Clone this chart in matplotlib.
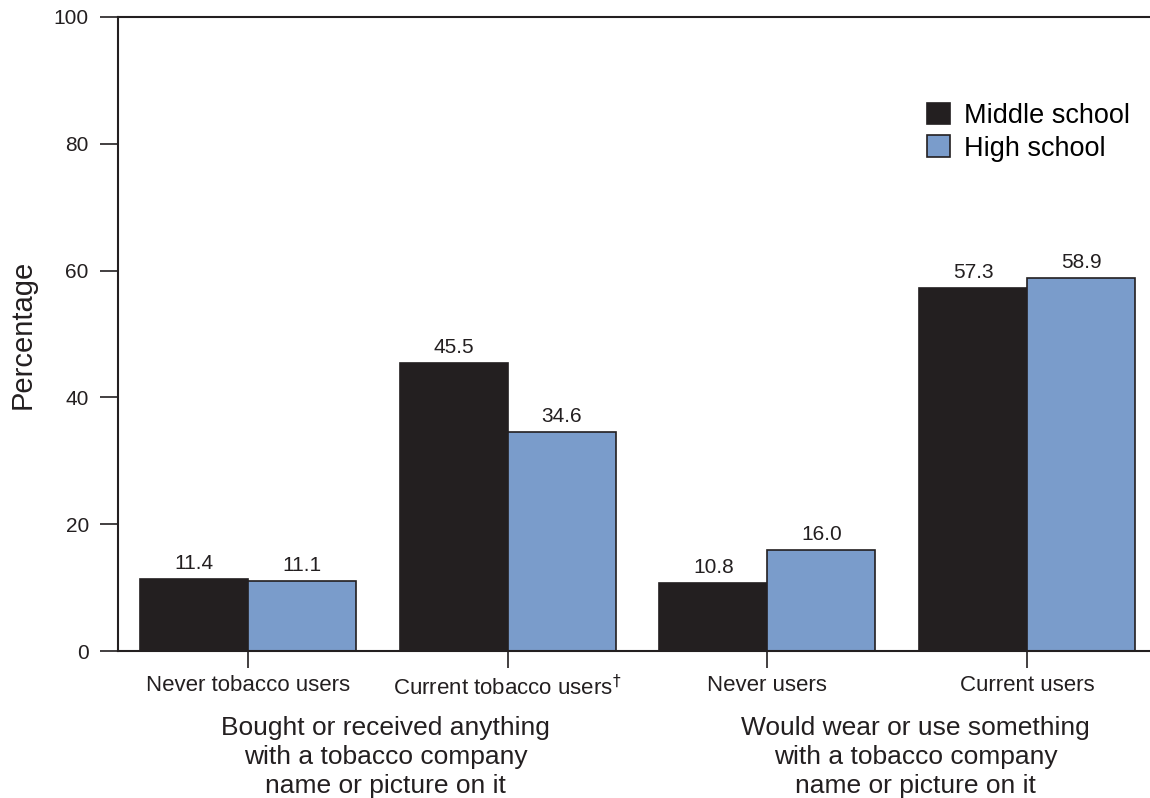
import numpy as np
import matplotlib.pyplot as plt

plt.rcParams['font.family'] = ['Liberation Sans', 'DejaVu Sans']

categories = ['Never tobacco users', 'Current tobacco users$^{\\dagger}$',
              'Never users', 'Current users']
middle = [11.4, 45.5, 10.8, 57.3]
high = [11.1, 34.6, 16.0, 58.9]
group_titles = ['Bought or received anything\nwith a tobacco company\nname or picture on it',
                'Would wear or use something\nwith a tobacco company\nname or picture on it']
title_x = [0.53, 2.57]

dark = '#231f20'
blue = '#7a9ccb'

fig = plt.figure(figsize=(11.5, 7.98), dpi=100)
ax = fig.add_axes([0.1026, 0.1842, 0.8974, 0.7945])

x = np.arange(len(categories))
w = 0.416
b1 = ax.bar(x - w / 2, middle, w, color=dark, edgecolor=dark, linewidth=1.2,
            label='Middle school')
b2 = ax.bar(x + w / 2, high, w, color=blue, edgecolor=dark, linewidth=1.2,
            label='High school')

for bars, vals in ((b1, middle), (b2, high)):
    for r, v in zip(bars, vals):
        ax.text(r.get_x() + r.get_width() / 2, v + 0.9, f'{v:.1f}',
                ha='center', va='bottom', fontsize=15, color=dark)

ax.set_xlim(-0.5, 3.473)
ax.set_ylim(0, 100)
ax.set_yticks(range(0, 101, 20))
ax.set_xticks(x)
ax.set_xticklabels(categories, fontsize=16, color=dark)
ax.tick_params(axis='y', length=13, width=1.2, labelsize=15, pad=8,
               color=dark, labelcolor=dark)
ax.tick_params(axis='x', length=12, width=1.2, pad=5, color=dark)
for s in ('left', 'top', 'bottom'):
    ax.spines[s].set_linewidth(1.5)
    ax.spines[s].set_color(dark)
ax.spines['right'].set_visible(False)

ax.set_ylabel('Percentage', fontsize=21, labelpad=12, color=dark)

for xt, t in zip(title_x, group_titles):
    ax.text(xt, -10.2, t, ha='center', va='top', fontsize=19,
            linespacing=1.27, color=dark)

ax.legend(loc='upper left', bbox_to_anchor=(0.766, 0.895), frameon=False,
          fontsize=19.5, handlelength=0.85, handleheight=0.85,
          handletextpad=0.5, labelspacing=0.25, borderpad=0.2)

fig.savefig('out.png', dpi=100)
